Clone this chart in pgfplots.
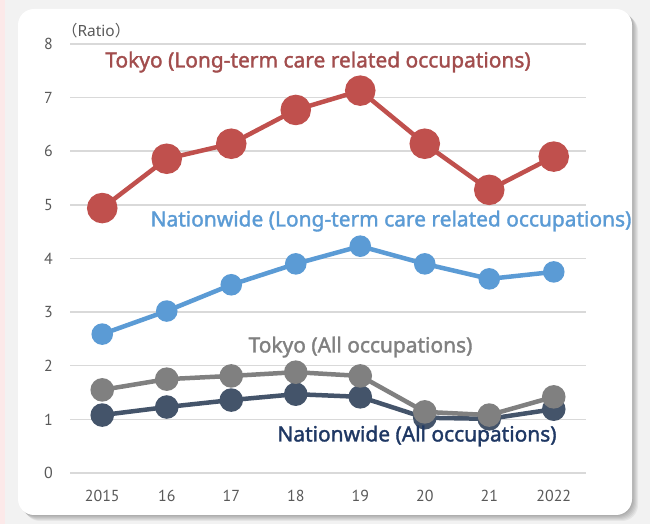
\documentclass[border=0pt]{standalone}
\usepackage{pgfplots}
\pgfplotsset{compat=1.18}
\usepackage{fontspec}
\setmainfont{PT Sans}
\newfontfamily\labfont{Noto Sans}
\newfontfamily\labfontb{Noto Sans}[FakeBold=1.6]
\newfontfamily\cjk{Noto Sans CJK JP}
\definecolor{bg}{HTML}{F2F2F2}
\definecolor{pinkc}{HTML}{FCE9E9}
\definecolor{gridc}{HTML}{D9D9D9}
\definecolor{tickc}{HTML}{595959}
\definecolor{redc}{HTML}{C0504D}
\definecolor{redlab}{HTML}{A24D4D}
\definecolor{bluec}{HTML}{5B9BD5}
\definecolor{grayc}{HTML}{808080}
\definecolor{darkc}{HTML}{44546A}
\definecolor{navylab}{HTML}{1F3864}
\pgfplotstableread{
x tokyoltc natltc tokyoall natall
0 4.94 2.59 1.55 1.08
1 5.86 3.02 1.75 1.23
2 6.14 3.51 1.81 1.36
3 6.77 3.90 1.88 1.47
4 7.13 4.23 1.81 1.42
5 6.14 3.90 1.14 1.03
6 5.28 3.62 1.08 1.01
7 5.90 3.75 1.42 1.19
}\datatable
\begin{document}
\begin{tikzpicture}[x=1bp,y=1bp]
\useasboundingbox (0,0) rectangle (650,524);
\fill[bg] (0,0) rectangle (650,524);
\fill[pinkc] (0,0) rectangle (5,524);
\foreach \o in {1,2,3,4,5,6}{
  \fill[black, opacity=0.05, rounded corners=16bp] (18+\o,9-\o) rectangle (632+\o,515-\o);
}
\fill[white, rounded corners=16bp] (18,9) rectangle (632,515);
\begin{axis}[
  at={(70bp,51bp)}, anchor=south west,
  scale only axis, width=516bp, height=429bp,
  xmin=-0.5, xmax=7.5, ymin=0, ymax=8,
  xtick={0,...,7}, xticklabels={2015,16,17,18,19,20,21,2022},
  ytick={0,...,8},
  axis line style={draw=none},
  major tick length=0pt,
  ymajorgrids, grid style={draw=gridc, line width=1.5bp},
  tick label style={font=\fontsize{16}{16}\selectfont, text=tickc, inner sep=0pt},
  /pgf/number format/assume math mode=true,
  yticklabel style={anchor=east, xshift=-17bp},
  xticklabel style={anchor=center, yshift=-23bp},
  clip=false,
]
\addplot[darkc, line width=4.5bp, mark=*, mark size=9.5bp] table[x=x, y=natall] {\datatable};
\addplot[grayc, line width=4.5bp, mark=*, mark size=9.5bp] table[x=x, y=tokyoall] {\datatable};
\addplot[bluec, line width=4.5bp, mark=*, mark size=8.5bp] table[x=x, y=natltc] {\datatable};
\addplot[redc, line width=4.5bp, mark=*, mark size=13bp] table[x=x, y=tokyoltc] {\datatable};
\end{axis}
\node[anchor=west, inner sep=0pt, text=tickc, font=\labfont\fontsize{15.5}{15.5}\selectfont] at (62,493) {{\cjk （}Ratio{\cjk ）}};
\node[text=redlab, inner sep=0pt, font=\labfontb\fontsize{21}{21}\selectfont] at (318,462) {Tokyo (Long-term care related occupations)};
\node[text=bluec, inner sep=0pt, font=\labfontb\fontsize{21}{21}\selectfont] at (391,303) {Nationwide (Long-term care related occupations)};
\node[text=grayc, inner sep=0pt, font=\labfontb\fontsize{21}{21}\selectfont] at (360.5,177) {Tokyo (All occupations)};
\node[text=navylab, inner sep=0pt, font=\labfontb\fontsize{21}{21}\selectfont] at (417,88) {Nationwide (All occupations)};
\end{tikzpicture}
\end{document}
